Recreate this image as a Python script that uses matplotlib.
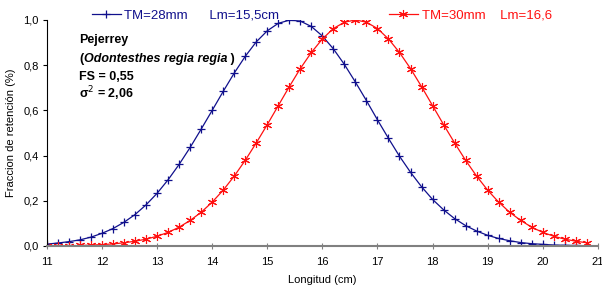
import matplotlib.pyplot as plt
from matplotlib.ticker import FuncFormatter
from matplotlib.lines import Line2D

plt.rcParams['font.family'] = ['Liberation Sans', 'DejaVu Sans']

longitud = [11.0, 11.2, 11.4, 11.6, 11.8, 12.0, 12.2, 12.4, 12.6, 12.8,
            13.0, 13.2, 13.4, 13.6, 13.8, 14.0, 14.2, 14.4, 14.6, 14.8,
            15.0, 15.2, 15.4, 15.6, 15.8, 16.0, 16.2, 16.4, 16.6, 16.8,
            17.0, 17.2, 17.4, 17.6, 17.8, 18.0, 18.2, 18.4, 18.6, 18.8,
            19.0, 19.2, 19.4, 19.6, 19.8, 20.0, 20.2, 20.4, 20.6, 20.8]

tm28 = [0.008, 0.013, 0.019, 0.027, 0.039, 0.056, 0.077, 0.105, 0.139, 0.182,
        0.233, 0.293, 0.361, 0.436, 0.517, 0.600, 0.684, 0.765, 0.839, 0.903,
        0.952, 0.985, 0.999, 0.995, 0.971, 0.929, 0.872, 0.803, 0.725, 0.643,
        0.558, 0.476, 0.397, 0.326, 0.262, 0.206, 0.160, 0.121, 0.090, 0.066,
        0.047, 0.033, 0.023, 0.015, 0.010, 0.007, 0.004, 0.003, 0.002, 0.001]

tm30 = [0.001, 0.001, 0.001, 0.002, 0.004, 0.006, 0.009, 0.014, 0.021, 0.030,
        0.043, 0.060, 0.083, 0.113, 0.149, 0.194, 0.247, 0.309, 0.379, 0.456,
        0.537, 0.621, 0.705, 0.785, 0.856, 0.916, 0.962, 0.990, 1.000, 0.990,
        0.962, 0.916, 0.856, 0.785, 0.705, 0.621, 0.537, 0.456, 0.379, 0.309,
        0.247, 0.194, 0.149, 0.113, 0.083, 0.060, 0.043, 0.030, 0.021, 0.014]

x_ticks = [11, 12, 13, 14, 15, 16, 17, 18, 19, 20, 21]
y_ticks = [0.0, 0.2, 0.4, 0.6, 0.8, 1.0]

blue = '#10108c'
red = '#ff1010'
star = (6, 2, 0)

fig = plt.figure(figsize=(6.02, 2.89), dpi=100)
ax = fig.add_axes([0.078, 0.149, 0.915, 0.782])

ax.plot(longitud, tm28, color=blue, lw=0.9, marker='+', ms=6, mew=0.9)
ax.plot(longitud, tm30, color=red, lw=0.9, marker=star, ms=6.5, mew=0.8)

ax.set_xlim(11, 21)
ax.set_ylim(0, 1.0)
ax.set_xticks(x_ticks)
ax.set_yticks(y_ticks)
ax.yaxis.set_major_formatter(FuncFormatter(lambda v, p: f"{v:.1f}".replace('.', ',')))
ax.tick_params(axis='y', labelsize=8, length=3, width=0.8, color='black', pad=3)
ax.tick_params(axis='x', labelsize=8, length=4, width=0.8, color='#808080',
               direction='inout', pad=6)
for s in ['top', 'right']:
    ax.spines[s].set_visible(False)
ax.spines['left'].set_color('black')
ax.spines['left'].set_linewidth(0.8)
ax.spines['bottom'].set_color('#808080')
ax.spines['bottom'].set_linewidth(1.5)

ax.set_xlabel("Longitud (cm)", fontsize=8, labelpad=6)
ax.set_ylabel("Fraccion de retención (%)", fontsize=8, labelpad=5)

# legend entries above the plot
h1 = Line2D([], [], color=blue, lw=0.9, marker='+', ms=6, mew=0.9)
h2 = Line2D([], [], color=red, lw=0.9, marker=star, ms=6.5, mew=0.8)
fig.legend([h1], ["TM=28mm      Lm=15,5cm"], loc='center left',
           bbox_to_anchor=(0.152, 0.948), frameon=False, fontsize=9.5,
           labelcolor=blue, handlelength=2.2, handletextpad=0.3,
           borderpad=0, borderaxespad=0)
fig.legend([h2], ["TM=30mm    Lm=16,6"], loc='center left',
           bbox_to_anchor=(0.646, 0.948), frameon=False, fontsize=9.5,
           labelcolor=red, handlelength=2.2, handletextpad=0.3,
           borderpad=0, borderaxespad=0)

# species annotation
tx = 0.132
fs = 9
fig.text(tx, 0.850, "Pejerrey", fontsize=fs, fontweight='bold')
p1 = fig.text(tx, 0.786, "(", fontsize=fs, fontweight='bold')
p2 = ax.annotate("Odontesthes regia regia", xy=(1, 0), xycoords=p1,
                 fontsize=fs, fontweight='bold', style='italic', va='bottom')
ax.annotate(" )", xy=(1, 0), xycoords=p2, fontsize=fs, fontweight='bold',
            va='bottom')
fig.text(tx, 0.722, "FS = 0,55", fontsize=fs, fontweight='bold')
fig.text(tx, 0.660, "σ$^{2}$ = 2,06", fontsize=fs, fontweight='bold')

fig.savefig("out.png", dpi=100)
